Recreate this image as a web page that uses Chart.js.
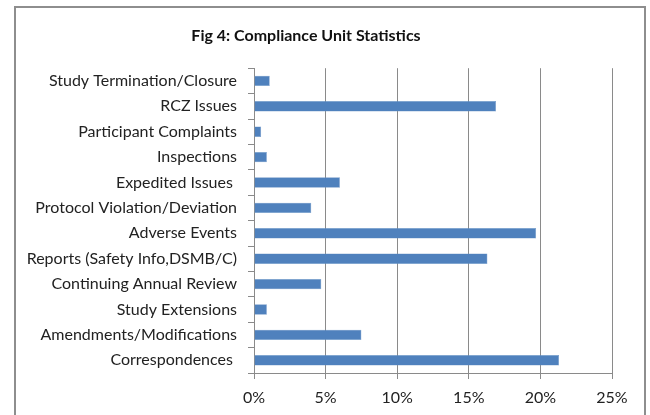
<!DOCTYPE html>
<html>
<head>
<meta charset="utf-8">
<script src="https://cdn.jsdelivr.net/npm/chart.js@4/dist/chart.umd.min.js"></script>
<style>
  html, body { margin: 0; padding: 0; background: #fff; }
  #wrap { position: relative; width: 650px; height: 415px; }
  #statsChart { display: block; }
  #frame {
    position: absolute; left: 14px; top: 6px; width: 632px; height: 420px;
    border: 2px solid #8e8e8e; box-sizing: border-box; pointer-events: none;
  }
</style>
</head>
<body>
<div id="wrap">
  <canvas id="statsChart" width="650" height="415"></canvas>
  <div id="frame"></div>
</div>
<script>
// categories, top to bottom as in the figure
var categories = [
  'Study Termination/Closure',
  'RCZ Issues',
  'Participant Complaints',
  'Inspections',
  'Expedited Issues ',
  'Protocol Violation/Deviation',
  'Adverse Events',
  'Reports (Safety Info,DSMB/C)',
  'Continuing Annual Review',
  'Study Extensions',
  'Amendments/Modifications',
  'Correspondences '
];
// share of compliance work, percent
var shares = [1.1, 16.9, 0.5, 0.9, 6.0, 4.0, 19.7, 16.3, 4.7, 0.9, 7.5, 21.3];
var tickValues = [0, 5, 10, 15, 20, 25];

var fontFamily = 'Lato, "Open Sans", sans-serif';
var gridGray = '#8a8a8a';

new Chart(document.getElementById('statsChart').getContext('2d'), {
  type: 'bar',
  data: {
    labels: categories,
    datasets: [{
      data: shares,
      backgroundColor: '#4f81bd',
      borderColor: '#6f97c8',
      borderWidth: 0.5,
      borderSkipped: false,
      categoryPercentage: 1,
      barPercentage: 0.41
    }]
  },
  options: {
    indexAxis: 'y',
    responsive: false,
    animation: false,
    layout: { padding: { left: 0, right: 38, top: 0, bottom: 8 } },
    plugins: {
      legend: { display: false },
      tooltip: { enabled: false },
      title: {
        display: true,
        text: 'Fig 4: Compliance Unit Statistics',
        color: '#111',
        font: { family: fontFamily, size: 16, weight: 'bold', lineHeight: 1.2 },
        padding: { top: 26, bottom: 23 }
      }
    },
    scales: {
      x: {
        min: 0,
        max: 25,
        afterBuildTicks: function(scale) {
          scale.ticks = tickValues.map(function(v) { return { value: v }; });
        },
        afterFit: function(scale) { scale.height = 34; },
        grid: { color: gridGray, lineWidth: 1, drawTicks: true, tickLength: 6, tickColor: gridGray },
        border: { display: true, color: gridGray, width: 1 },
        ticks: {
          color: '#222',
          padding: 9,
          font: { family: fontFamily, size: 16 },
          callback: function(v) { return v + '%'; }
        }
      },
      y: {
        afterFit: function(scale) { scale.width = 254; },
        grid: { drawOnChartArea: false, drawTicks: true, tickLength: 6, tickColor: gridGray, offset: true },
        border: { display: true, color: gridGray, width: 1 },
        ticks: {
          color: '#222',
          padding: 11,
          autoSkip: false,
          font: { family: fontFamily, size: 16 }
        }
      }
    }
  }
});
</script>
</body>
</html>
